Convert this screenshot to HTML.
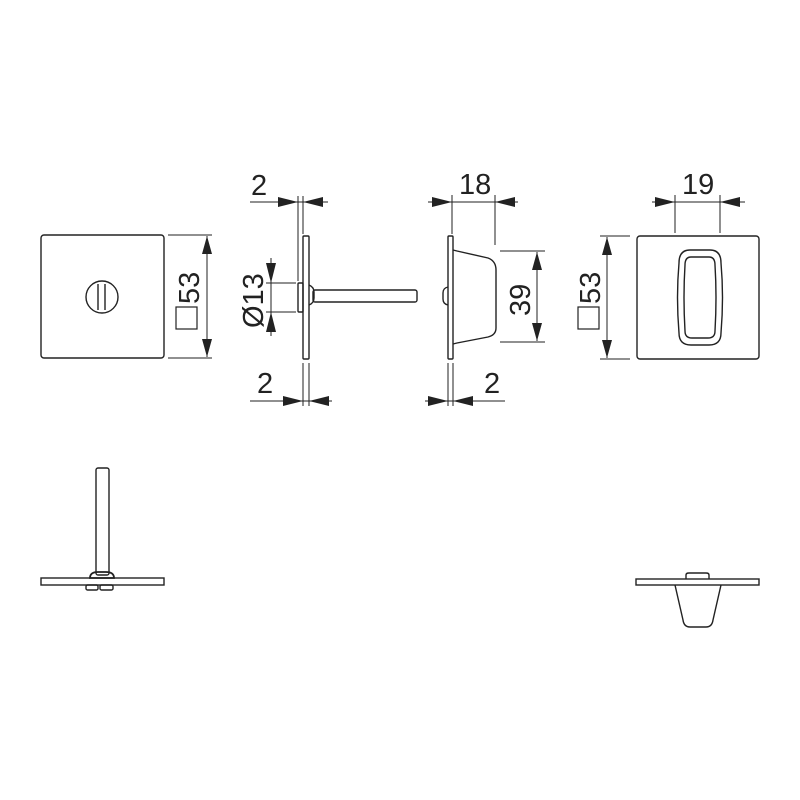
<!DOCTYPE html>
<html><head><style>body{margin:0;background:#fff}svg{display:block}text{font-family:"Liberation Sans",sans-serif;fill:#222}</style></head><body>
<svg width="800" height="800" viewBox="0 0 800 800" xmlns="http://www.w3.org/2000/svg">
<g fill="none" stroke="#222" stroke-width="1.4">
<!-- left square -->
<rect x="41" y="235" width="123" height="123" rx="3"/>
<circle cx="102" cy="297" r="16"/>
<line x1="98" y1="284" x2="98" y2="310"/><line x1="105" y1="284" x2="105" y2="310"/>
<line x1="168" y1="235" x2="212" y2="235" stroke-width="1"/><line x1="168" y1="358" x2="212" y2="358" stroke-width="1"/>
<line x1="207" y1="236" x2="207" y2="357" stroke-width="1"/>
<path d="M207,236l-5,18h10z M207,357l-5,-18h10z" fill="#222" stroke="none"/>
<rect x="176" y="307" width="21" height="22" stroke-width="1.2"/>
<!-- middle left part -->
<rect x="303" y="236" width="6" height="123" rx="1"/>
<rect x="298" y="283" width="5" height="29" rx="1"/>
<path d="M309,285 q5,2 5,7 v6 q0,5 -5,7"/>
<rect x="313" y="290" width="104" height="12" rx="2"/>
<g stroke-width="1">
<line x1="298" y1="196" x2="298" y2="281"/><line x1="303" y1="196" x2="303" y2="234"/>
<line x1="250" y1="202" x2="328" y2="202"/>
<line x1="303" y1="363" x2="303" y2="406"/><line x1="309" y1="363" x2="309" y2="406"/>
<line x1="250" y1="401" x2="332" y2="401"/>
<line x1="266" y1="283" x2="296" y2="283"/><line x1="266" y1="312" x2="296" y2="312"/>
<line x1="271" y1="258" x2="271" y2="336"/>
</g>
<path d="M298,202l-20,-5v10z M303,202l20,-5v10z M303,401l-20,-5v10z M309,401l20,-5v10z M271,283l-5,-20h10z M271,312l-5,20h10z" fill="#222" stroke="none"/>
<!-- middle right part -->
<rect x="448" y="236" width="5" height="123" rx="1"/>
<path d="M448,287 q-5,1 -5,6 v6 q0,5 5,6"/>
<path d="M453,250 L457,251 L488,258 Q496,261 496,270 L496,328 Q496,335 488,337 L457,343 L453,344"/>
<g stroke-width="1">
<line x1="452" y1="195" x2="452" y2="234"/><line x1="495" y1="195" x2="495" y2="245"/>
<line x1="428" y1="202" x2="518" y2="202"/>
<line x1="448" y1="363" x2="448" y2="406"/><line x1="453" y1="363" x2="453" y2="406"/>
<line x1="425" y1="401" x2="505" y2="401"/>
<line x1="500" y1="251" x2="545" y2="251"/><line x1="500" y1="342" x2="545" y2="342"/>
<line x1="537" y1="252" x2="537" y2="341"/>
</g>
<path d="M452,202l-20,-5v10z M495,202l20,-5v10z M448,401l-20,-5v10z M453,401l20,-5v10z M537,252l-5,18h10z M537,341l-5,-18h10z" fill="#222" stroke="none"/>
<!-- right square -->
<rect x="637" y="236" width="122" height="123" rx="3"/>
<path d="M690,250 H710 Q721,250 721,263 Q724,297 721,333 Q721,345 709,345 H691 Q679,345 679,333 Q676,297 679,263 Q679,250 690,250z"/>
<path d="M691,257 H709 Q715,257 715,265 Q717,297 715,331 Q715,338 708,338 H692 Q685,338 685,331 Q683,297 685,265 Q685,257 691,257z"/>
<g stroke-width="1">
<line x1="675" y1="195" x2="675" y2="233"/><line x1="720" y1="195" x2="720" y2="233"/>
<line x1="652" y1="202" x2="745" y2="202"/>
<line x1="600" y1="236" x2="630" y2="236"/><line x1="600" y1="359" x2="630" y2="359"/>
<line x1="607" y1="237" x2="607" y2="358"/>
</g>
<path d="M675,202l-20,-5v10z M720,202l20,-5v10z M607,237l-5,18h10z M607,358l-5,-18h10z" fill="#222" stroke="none"/>
<rect x="578" y="307" width="21" height="22" stroke-width="1.2"/>
<!-- bottom left -->
<rect x="96" y="468" width="13" height="107" rx="2"/>
<path d="M90,578 q0,-6 8,-6 h8 q8,0 8,6z" stroke-width="1.8"/>
<rect x="41" y="578" width="123" height="7"/>
<rect x="86" y="585" width="12" height="5" rx="1.5"/><rect x="100" y="585" width="13" height="5" rx="1.5"/>
<!-- bottom right -->
<rect x="636" y="579" width="123" height="6"/>
<path d="M686,579 v-4 q0,-2 3,-2 h17 q3,0 3,2 v4"/>
<path d="M675,585 L683,620 Q684,627 690,627 H706 Q712,627 713,620 L721,585"/>
</g>
<g font-size="29">
<text x="251" y="195">2</text>
<text x="257" y="393">2</text>
<text x="459" y="194">18</text>
<text x="484" y="393">2</text>
<text x="682" y="194">19</text>
<text transform="translate(199,304) rotate(-90)">53</text>
<text transform="translate(600,304) rotate(-90)">53</text>
<text transform="translate(530,316) rotate(-90)">39</text>
<text transform="translate(263,328) rotate(-90)">Ø13</text>
</g>
</svg>
</body></html>
